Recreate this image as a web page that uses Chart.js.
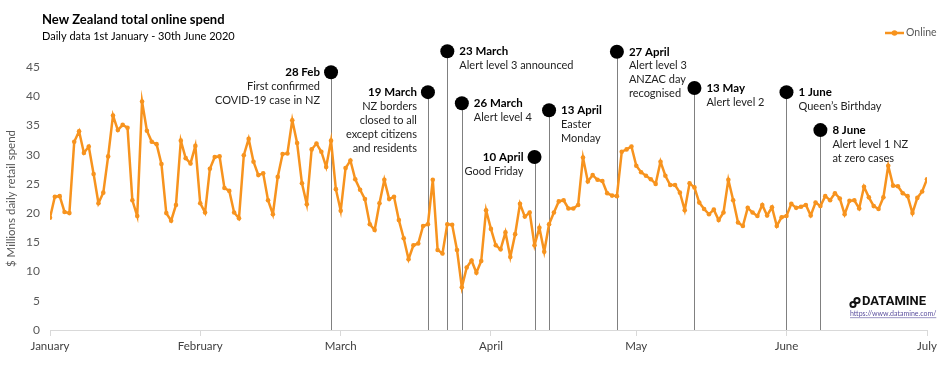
<!DOCTYPE html>
<html lang="en">
<head>
    <meta charset="UTF-8">
    <title>New Zealand total online spend</title>
    <script src="https://cdn.jsdelivr.net/npm/chart.js"></script>
    <style>
        body { margin: 0; background: #fff; }
        #wrap { width: 952px; height: 369px; }
    </style>
</head>
<body>
<div id="wrap"><canvas id="spendChart" width="952" height="369"></canvas></div>
<script>
    // daily online spend, $ millions, 1 Jan - 30 Jun 2020 (day index 0 = 1 Jan)
    const values = [
        19.2, 22.8, 22.9, 20.2, 20.0, 32.2, 34.0, 30.3, 31.4, 26.7,
        21.7, 23.5, 29.7, 36.7, 34.2, 35.1, 34.6, 22.2, 19.5, 39.1,
        34.1, 32.2, 31.8, 28.4, 20.0, 18.7, 21.4, 32.4, 29.4, 28.5,
        31.5, 21.7, 20.1, 27.6, 29.6, 29.7, 24.3, 23.8, 20.1, 19.1,
        29.9, 32.7, 28.8, 26.5, 26.8, 22.2, 19.8, 26.2, 30.1, 30.2,
        35.9, 32.0, 25.1, 21.5, 30.9, 31.9, 30.5, 27.9, 32.4, 24.1,
        20.4, 27.7, 29.0, 25.8, 24.0, 22.4, 18.1, 17.1, 21.7, 25.7,
        22.4, 22.8, 18.8, 15.7, 12.1, 14.5, 14.8, 17.8, 18.1, 25.7,
        13.7, 13.1, 18.1, 18.0, 13.7, 7.3, 10.7, 11.9, 9.8, 11.8,
        20.5, 17.3, 14.5, 13.8, 16.7, 12.5, 16.4, 21.6, 19.4, 20.1,
        14.5, 17.5, 13.4, 18.1, 20.1, 22.0, 22.2, 20.8, 20.8, 21.4,
        29.5, 25.4, 26.5, 25.7, 25.5, 23.4, 23.0, 22.9, 30.5, 30.9,
        31.4, 28.1, 27.0, 26.4, 25.8, 25.0, 28.8, 26.4, 24.8, 24.8,
        23.5, 20.5, 25.1, 24.4, 21.8, 20.7, 19.8, 20.6, 18.8, 20.1,
        25.7, 22.2, 18.4, 17.8, 20.9, 20.1, 19.5, 21.4, 19.6, 21.0,
        17.8, 19.3, 19.5, 21.6, 20.9, 21.1, 21.4, 19.6, 21.8, 21.2,
        22.9, 22.2, 23.4, 22.5, 19.8, 22.1, 22.2, 20.8, 24.5, 22.7,
        21.2, 20.7, 22.7, 28.1, 24.7, 24.6, 23.4, 22.9, 20.0, 22.6,
        23.7, 25.8
    ];

    const monthStarts = [0, 31, 60, 91, 121, 152, 181];
    const monthNames = ["January", "February", "March", "April", "May", "June", "July"];

    // events: day index, marker height (in $M), bold title, note lines
    const eventDays = [58, 78, 82, 85, 100, 103, 117, 133, 152, 159];
    const eventLevels = [44.1, 40.7, 47.7, 38.8, 29.6, 37.6, 47.6, 41.4, 40.7, 34.2];
    const eventTitles = ["28 Feb", "19 March", "23 March", "26 March", "10 April",
        "13 April", "27 April", "13 May", "1 June", "8 June"];
    const eventNotes = [
        ["First confirmed", "COVID-19 case in NZ"],
        ["NZ borders", "closed to all", "except citizens", "and residents"],
        ["Alert level 3 announced"],
        ["Alert level 4"],
        ["Good Friday"],
        ["Easter", "Monday"],
        ["Alert level 3", "ANZAC day", "recognised"],
        ["Alert level 2"],
        ["Queen\u2019s Birthday"],
        ["Alert level 1 NZ", "at zero cases"]
    ];
    // which side of the marker the text sits on
    const labelSide = ["left", "left", "right", "right", "left", "right", "right", "right", "right", "right"];

    const ORANGE = "#F7931E";
    const FONT = "Lato, 'Noto Sans', sans-serif";

    const eventsPlugin = {
        id: "events",
        beforeDatasetsDraw(chart) {
            const ctx = chart.ctx, xs = chart.scales.x, ys = chart.scales.y;
            ctx.save();
            ctx.strokeStyle = "#808080";
            ctx.lineWidth = 1;
            eventDays.forEach((d, i) => {
                const x = Math.round(xs.getPixelForValue(d)) + 0.5;
                ctx.beginPath();
                ctx.moveTo(x, ys.getPixelForValue(eventLevels[i]));
                ctx.lineTo(x, ys.getPixelForValue(0));
                ctx.stroke();
            });
            ctx.restore();
        },
        afterDraw(chart) {
            const ctx = chart.ctx, xs = chart.scales.x, ys = chart.scales.y;
            ctx.save();
            ctx.textBaseline = "middle";
            eventDays.forEach((d, i) => {
                const x = xs.getPixelForValue(d);
                const y = ys.getPixelForValue(eventLevels[i]);
                ctx.fillStyle = "#000";
                ctx.beginPath();
                ctx.arc(x, y, 7, 0, Math.PI * 2);
                ctx.fill();
                const left = labelSide[i] === "left";
                const tx = left ? x - 11 : x + 12;
                ctx.textAlign = left ? "right" : "left";
                ctx.fillStyle = "#000";
                ctx.font = "bold 11.5px " + FONT;
                ctx.fillText(eventTitles[i], tx, y);
                ctx.fillStyle = "#222";
                ctx.font = "11px " + FONT;
                eventNotes[i].forEach((line, j) => ctx.fillText(line, tx, y + 14 * (j + 1)));
            });

            // title block
            ctx.textAlign = "left";
            ctx.fillStyle = "#000";
            ctx.font = "bold 13px " + FONT;
            ctx.fillText("New Zealand total online spend", 42, 20);
            ctx.font = "11px " + FONT;
            ctx.fillText("Daily data 1st January - 30th June 2020", 42, 36);

            // legend
            ctx.strokeStyle = ORANGE;
            ctx.lineWidth = 2.5;
            ctx.beginPath();
            ctx.moveTo(885, 33);
            ctx.lineTo(904, 33);
            ctx.stroke();
            ctx.fillStyle = ORANGE;
            ctx.beginPath();
            ctx.arc(894.5, 33, 2.8, 0, Math.PI * 2);
            ctx.fill();
            ctx.fillStyle = "#595959";
            ctx.font = "10.5px " + FONT;
            ctx.fillText("Online", 906, 33);

            // source logo
            ctx.strokeStyle = "#111";
            ctx.lineWidth = 2;
            ctx.beginPath();
            ctx.arc(853, 304.5, 2.6, 0, Math.PI * 2);
            ctx.stroke();
            ctx.beginPath();
            ctx.arc(857, 300.5, 2.6, 0, Math.PI * 2);
            ctx.stroke();
            ctx.fillStyle = "#111";
            ctx.font = "bold 13px 'Liberation Sans Narrow', 'Roboto', sans-serif";
            ctx.fillText("DATAMINE", 862, 302);
            ctx.fillStyle = "#5b4f9e";
            ctx.font = "7px " + FONT;
            const url = "https://www.datamine.com/";
            ctx.fillText(url, 850, 314);
            const w = ctx.measureText(url).width;
            ctx.fillRect(850, 317.5, w, 0.6);
            ctx.restore();
        }
    };

    new Chart(document.getElementById("spendChart"), {
        type: "line",
        data: {
            datasets: [{
                label: "Online",
                data: values.map((v, i) => ({ x: i, y: v })),
                borderColor: ORANGE,
                backgroundColor: ORANGE,
                borderWidth: 2.5,
                pointRadius: 2.3,
                pointBorderWidth: 0,
                tension: 0
            }]
        },
        options: {
            responsive: false,
            animation: false,
            layout: { padding: { top: 67, right: 25, left: 0, bottom: 0 } },
            plugins: {
                legend: { display: false },
                tooltip: { enabled: false }
            },
            scales: {
                x: {
                    type: "linear",
                    min: 0,
                    max: 181,
                    afterBuildTicks: s => { s.ticks = monthStarts.map(v => ({ value: v })); },
                    afterFit: s => { s.height = 39; },
                    ticks: {
                        autoSkip: false,
                        maxRotation: 0,
                        padding: 3,
                        color: "#404040",
                        font: { family: FONT, size: 11.5 },
                        callback: v => monthNames[monthStarts.indexOf(v)]
                    },
                    grid: { drawOnChartArea: false, color: "#d9d9d9", tickLength: 6 },
                    border: { color: "#d9d9d9" }
                },
                y: {
                    min: 0,
                    max: 45,
                    afterFit: s => { s.width = 50; },
                    ticks: {
                        stepSize: 5,
                        padding: 2,
                        color: "#595959",
                        font: { family: FONT, size: 12 }
                    },
                    grid: { display: false },
                    border: { display: false },
                    title: {
                        display: true,
                        text: "$ Millions daily retail spend",
                        color: "#595959",
                        font: { family: FONT, size: 11.5 },
                        padding: { top: 4, bottom: 0 }
                    }
                }
            }
        },
        plugins: [eventsPlugin]
    });
</script>
</body>
</html>
